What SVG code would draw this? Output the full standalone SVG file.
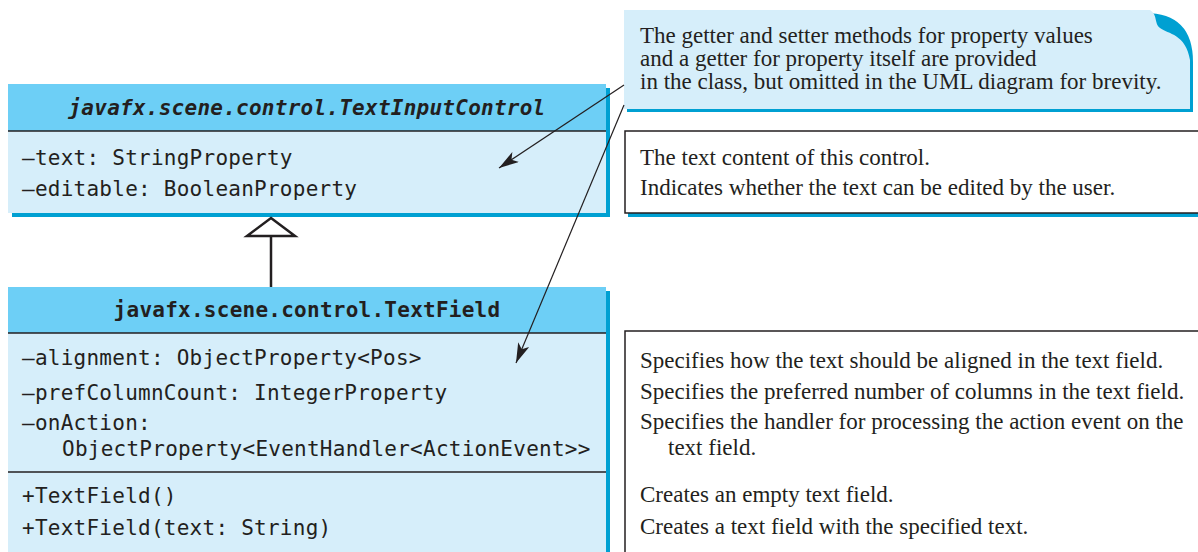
<svg xmlns="http://www.w3.org/2000/svg" width="1198" height="552" viewBox="0 0 1198 552">
<style>
.hdr{fill:#6dcff6}
.body{fill:#d6eefa}
.shd{fill:#00a0d2}
.sep{stroke:#231f20;stroke-width:1.5}
.mono{font-family:"DejaVu Sans Mono","Liberation Mono",monospace;font-size:21px;fill:#231f20;letter-spacing:0.25px}
.serif{font-family:"Liberation Serif","Times New Roman",serif;font-size:23px;fill:#231f20}
.desc{fill:#ffffff;stroke:#231f20;stroke-width:1.5}
.conn{stroke:#231f20;stroke-width:1.2;fill:none}
</style>
<defs>
<marker id="arr" viewBox="0 0 20 12" refX="20" refY="6" markerWidth="20" markerHeight="12" markerUnits="userSpaceOnUse" orient="auto">
<path d="M0,0 L20,6 L0,12 L5,6 Z" fill="#231f20"/>
</marker>
</defs>
<rect width="1198" height="552" fill="#ffffff"/>

<g id="textInputControl">
<rect class="shd" x="12" y="88" width="598" height="129"/>
<rect class="hdr" x="8" y="84" width="598" height="47"/>
<rect class="body" x="8" y="131" width="598" height="82"/>
<line class="sep" x1="8" y1="131" x2="606" y2="131"/>
<text class="mono" x="307" y="115" text-anchor="middle" font-style="italic" font-weight="bold">javafx.scene.control.TextInputControl</text>
<text class="mono" x="22" y="165">–text: StringProperty</text>
<text class="mono" x="22" y="196">–editable: BooleanProperty</text>
</g>

<g id="textField">
<rect class="shd" x="12" y="291" width="598" height="270"/>
<rect class="hdr" x="8" y="287" width="598" height="46"/>
<rect class="body" x="8" y="333" width="598" height="230"/>
<line class="sep" x1="8" y1="333" x2="606" y2="333"/>
<line class="sep" x1="8" y1="472" x2="606" y2="472"/>
<text class="mono" x="307" y="317" text-anchor="middle" font-weight="bold">javafx.scene.control.TextField</text>
<text class="mono" x="22" y="365">–alignment: ObjectProperty&lt;Pos&gt;</text>
<text class="mono" x="22" y="400">–prefColumnCount: IntegerProperty</text>
<text class="mono" x="22" y="430">–onAction:</text>
<text class="mono" x="62" y="456">ObjectProperty&lt;EventHandler&lt;ActionEvent&gt;&gt;</text>
<text class="mono" x="22" y="503">+TextField()</text>
<text class="mono" x="22" y="535">+TextField(text: String)</text>
</g>

<g id="note">
<path class="shd" d="M627,13 H1143 Q1193,12 1193,62 V112 H627 Z"/>
<path class="body" d="M624,10 H1150 C1158,15 1154,24 1160,28 C1168,34 1186,34 1190,60 V109 H624 Z"/>
<text class="serif" x="640" y="43">The getter and setter methods for property values</text>
<text class="serif" x="640" y="66">and a getter for property itself are provided</text>
<text class="serif" x="640" y="89">in the class, but omitted in the UML diagram for brevity.</text>
</g>

<g id="desc1">
<rect class="shd" x="628" y="135" width="580" height="82"/>
<rect class="desc" x="625" y="131" width="580" height="82"/>
<text class="serif" x="640" y="165">The text content of this control.</text>
<text class="serif" x="640" y="195">Indicates whether the text can be edited by the user.</text>
</g>

<g id="desc2">
<rect class="desc" x="625" y="331" width="580" height="240"/>
<text class="serif" x="640" y="368">Specifies how the text should be aligned in the text field.</text>
<text class="serif" x="640" y="399">Specifies the preferred number of columns in the text field.</text>
<text class="serif" x="640" y="429">Specifies the handler for processing the action event on the</text>
<text class="serif" x="668" y="455">text field.</text>
<text class="serif" x="640" y="502">Creates an empty text field.</text>
<text class="serif" x="640" y="534">Creates a text field with the specified text.</text>
</g>

<g id="connectors">
<line x1="271" y1="236" x2="271" y2="287" stroke="#231f20" stroke-width="2.5"/>
<path d="M271,218 L295,236 L247,236 Z" fill="#ffffff" stroke="#231f20" stroke-width="2.5" stroke-linejoin="miter"/>
<line class="conn" x1="624" y1="85" x2="499" y2="168" marker-end="url(#arr)"/>
<line class="conn" x1="624" y1="105" x2="516" y2="363" marker-end="url(#arr)"/>
</g>
</svg>
